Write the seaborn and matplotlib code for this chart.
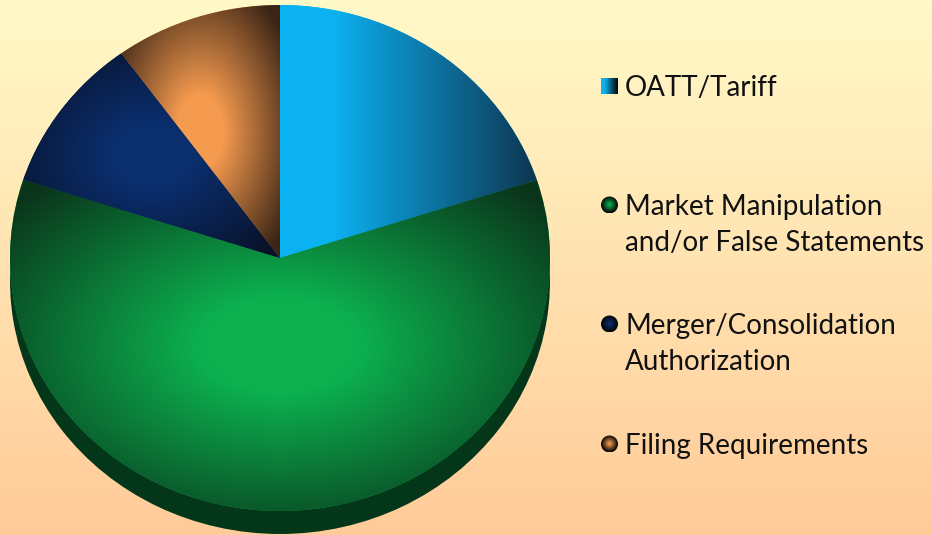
import numpy as np
import seaborn as sns
import matplotlib.pyplot as plt
from matplotlib.patches import Circle, Rectangle

# datos
categories = ['OATT/Tariff', 'Market Manipulation\nand/or False Statements',
              'Merger/Consolidation\nAuthorization', 'Filing Requirements']
values = [20, 60, 10, 10]

bright_colors = ['#0BB2F2', '#0CB14F', '#0B2F6F', '#F59B4F']
dark_colors = ['#0E3550', '#0A351B', '#08122A', '#3A2415']
side_color = '#04361A'
bg_colors = ['#FFFAC8', '#FFCB99']

sns.set_theme(style='white')
plt.rcParams['font.family'] = ['Lato', 'DejaVu Sans']

W, H = 932, 535
fig = plt.figure(figsize=(W / 100, H / 100), dpi=100)

# fondo
bg = fig.add_axes([0, 0, 1, 1])
bg_cmap = sns.blend_palette(bg_colors, as_cmap=True)
bg.imshow(np.linspace(0, 1, 256).reshape(-1, 1), cmap=bg_cmap, aspect='auto', extent=[0, W, H, 0])
bg.set_xlim(0, W)
bg.set_ylim(H, 0)
bg.axis('off')


def glow(n_x, n_y, horizontal=False, plateau=0.22, reach=1.3):
    u = np.linspace(-1, 1, n_x)
    v = np.linspace(-1, 1, n_y)
    uu, vv = np.meshgrid(u, v)
    if horizontal:
        d = (uu + 1) / 2
        return np.clip(1 - (d - 0.2) / 0.8, 0, 1)
    d = np.sqrt(uu ** 2 + vv ** 2) / reach
    return np.clip(1 - (d - plateau) / (1 - plateau), 0, 1)


# pie: eje sin aspecto igual para que quede eliptico
depth = 23 / 253
ax = fig.add_axes([10 / W, 1 - 534 / H, 540 / W, 529 / H])
ax.pie(values, startangle=90, counterclock=False, center=(0, -depth), colors=[side_color] * 4,
       wedgeprops={'linewidth': 0})
wedges, _ = ax.pie(values, startangle=90, counterclock=False, colors=bright_colors,
                   wedgeprops={'linewidth': 0})

for i, w in enumerate(wedges):
    ext = w.get_path().get_extents(w.get_patch_transform())
    cmap = sns.blend_palette([dark_colors[i], bright_colors[i]], as_cmap=True)
    im = ax.imshow(glow(300, 300, horizontal=(i == 0)), cmap=cmap, vmin=0, vmax=1, origin='lower',
                   extent=[ext.x0, ext.x1, ext.y0, ext.y1], zorder=3, aspect='auto')
    im.set_clip_path(w)

ax.set_aspect('auto')
ax.set_xlim(-1, 1)
ax.set_ylim(-1 - depth, 1)
ax.axis('off')

# leyenda
text_x = 625
marker_x = 609.5
marker_r = 8.5
first_baselines = [96, 215, 334, 454]
line_gap = 36

for i, cat in enumerate(categories):
    base = first_baselines[i]
    cy = base - 10
    cmap = sns.blend_palette(['#050505', bright_colors[i]], as_cmap=True)
    im = bg.imshow(glow(40, 40, horizontal=(i == 0), plateau=0.05, reach=1.0), cmap=cmap, vmin=0, vmax=1,
                   aspect='auto',
                   extent=[marker_x - marker_r, marker_x + marker_r, cy + marker_r, cy - marker_r], zorder=3)
    if i == 0:
        clip = Rectangle((marker_x - marker_r, cy - marker_r), 2 * marker_r, 2 * marker_r, transform=bg.transData)
    else:
        clip = Circle((marker_x, cy), marker_r, transform=bg.transData)
    im.set_clip_path(clip)
    for j, line in enumerate(cat.split('\n')):
        bg.text(text_x, base + j * line_gap, line, fontsize=20, color='#111111', va='baseline', ha='left', zorder=4)

bg.set_xlim(0, W)
bg.set_ylim(H, 0)

fig.savefig('out.png', dpi=100)
